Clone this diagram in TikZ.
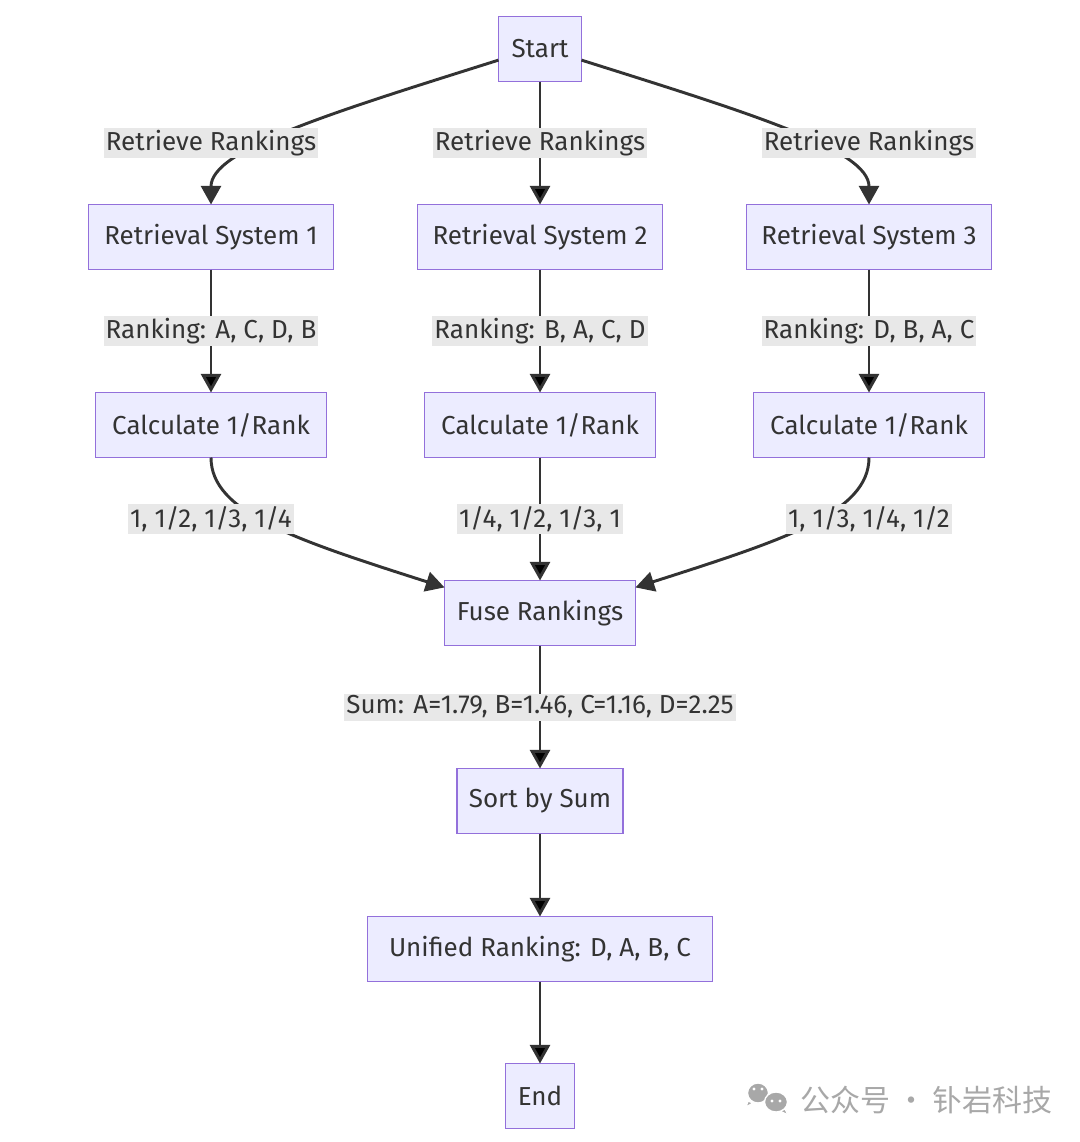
\documentclass[tikz,border=0pt]{standalone}
\usepackage{fontspec}
\setmainfont{Fira Sans}
\newfontfamily\cjkfont{Noto Sans CJK SC}
\usepackage{tikz}
\usetikzlibrary{positioning, arrows.meta}
\definecolor{boxfill}{HTML}{ECECFF}
\definecolor{boxline}{HTML}{9370DB}
\definecolor{edgeline}{HTML}{333333}
\definecolor{labelfill}{HTML}{E8E8E8}
\definecolor{markgray}{HTML}{A8A8A8}
\tikzset{
	every node/.append style={
		font={\fontsize{19.5}{23}\selectfont},
		text=edgeline,
	},
	process/.append style={
		draw=boxline,
		fill=boxfill,
		line width=1.1pt,
		align = center,
		inner sep=0pt,
		outer sep=0pt,
		minimum height=48.75pt,
	},
	labe/.append style={
		fill=labelfill,
		align = center,
		inner sep=1.5pt,
		minimum height=20.25pt,
	},
	flow/.append style={
		draw=edgeline,
		line width=2.2pt,
		-{Triangle[length=14pt, width=15pt]},
	},
	bubble/.append style={
		fill=markgray,
		draw=white,
		line width=1pt,
	},
}

\begin{document}
\begin{tikzpicture}[x=0.75pt, y=-0.75pt]
		\useasboundingbox[fill=white] (0,0) rectangle (1080,1142);

		\node(start)[process, minimum width=62.25pt] at (540,49) {Start};
		\node(rs2)[process, minimum width=183.75pt, below = 92.25pt of start]{Retrieval System 2};
		\node(rs1)[process, minimum width=183.75pt, left = 63pt of rs2]{Retrieval System 1};
		\node(rs3)[process, minimum width=183.75pt, right = 63pt of rs2]{Retrieval System 3};

		\node(calc2)[process, minimum width=173.25pt, below = 92.25pt of rs2]{Calculate 1/Rank};
		\node(calc1)[process, minimum width=173.25pt, below = 92.25pt of rs1]{Calculate 1/Rank};
		\node(calc3)[process, minimum width=173.25pt, below = 92.25pt of rs3]{Calculate 1/Rank};

		\node(fuse)[process, minimum width=143.25pt, below = 92.25pt of calc2]{Fuse Rankings};
		\node(sort)[process, minimum width=124.5pt, below = 92.25pt of fuse]{Sort by Sum};
		\node(unified)[process, minimum width=258.75pt, below = 62.25pt of sort]{Unified Ranking: D, A, B, C};
		\node(stop)[process, minimum width=51.75pt, below = 61.5pt of unified]{End};

		% start to the three systems
		\draw[flow] (start.-165) .. controls +(-168,53) and +(0,-55) .. (rs1.north);
		\draw[flow] (start.-15) .. controls +(168,53) and +(0,-55) .. (rs3.north);
		\draw[flow] (start) edge node[labe] (retr2) {Retrieve Rankings} (rs2);
		\node(retr1)[labe] at (rs1 |- retr2) {Retrieve Rankings};
		\node(retr3)[labe] at (rs3 |- retr2) {Retrieve Rankings};

		\draw[flow] (rs1) edge node[labe] {Ranking: A, C, D, B} (calc1);
		\draw[flow] (rs2) edge node[labe] {Ranking: B, A, C, D} (calc2);
		\draw[flow] (rs3) edge node[labe] {Ranking: D, B, A, C} (calc3);

		% reciprocal ranks into the fusion
		\draw[flow] (calc1.south) .. controls +(0,55) and +(-150,-48) .. (fuse.165);
		\draw[flow] (calc3.south) .. controls +(0,55) and +(150,-48) .. (fuse.15);
		\draw[flow] (calc2) edge node[labe] (vals2) {1/4, 1/2, 1/3, 1} (fuse);
		\node(vals1)[labe] at (calc1 |- vals2) {1, 1/2, 1/3, 1/4};
		\node(vals3)[labe] at (calc3 |- vals2) {1, 1/3, 1/4, 1/2};

		\draw[flow] (fuse) edge node[labe] {Sum: A=1.79, B=1.46, C=1.16, D=2.25} (sort);
		\draw[flow] (sort) edge (unified);
		\draw[flow] (unified) edge (stop);

		% watermark
		\draw[bubble] (748,1101) -- (746,1107) -- (753,1103) -- cycle;
		\draw[bubble] (758,1093) ellipse [x radius=10.5, y radius=10];
		\draw[bubble] (785,1109) -- (788,1115) -- (780,1111) -- cycle;
		\draw[bubble] (776,1102) ellipse [x radius=11.5, y radius=10];
		\foreach \ex/\ey in {754/1089, 762/1089, 772/1101, 780/1101}
			\fill[white] (\ex,\ey) circle [radius=1.6];
		\node(mark)[anchor=west, text=markgray, font={\cjkfont\fontsize{22.5}{26}\selectfont}] at (796,1100) {公众号\hspace{0.2em}·\hspace{0.2em}钋岩科技};
\end{tikzpicture}
\end{document}
